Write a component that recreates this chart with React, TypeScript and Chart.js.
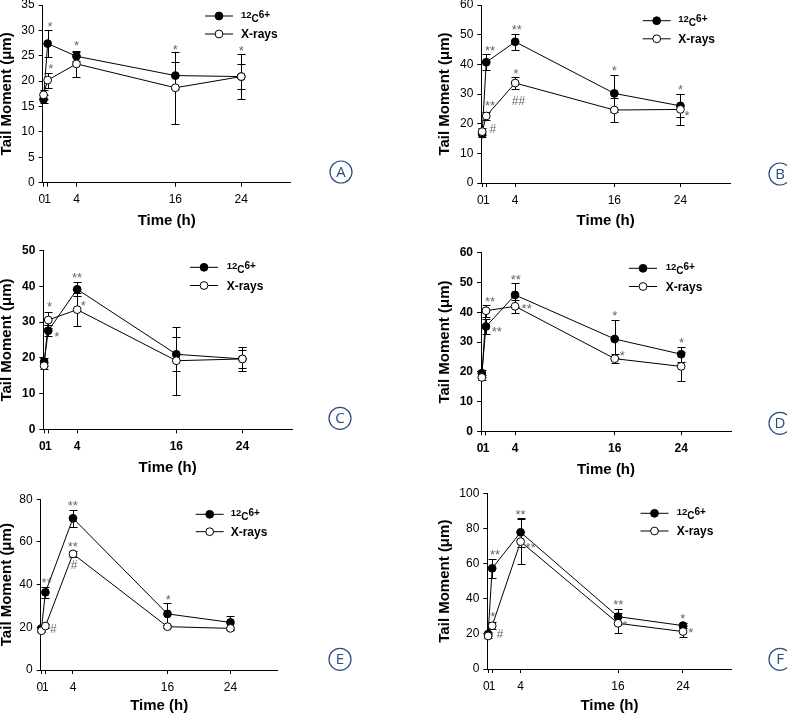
import { useEffect, useRef } from "react";
import { Chart, registerables } from "chart.js";

Chart.register(...registerables);

const FONT = "'Liberation Sans', Arial, Helvetica, sans-serif";

// ---------- shared data ----------
const timePoints = [0, 0.5, 4, 16, 24];
const xTickValues = [0, 0.5, 4, 16, 24];
const xTickLabels = ["0", "1", "4", "16", "24"];
const carbonLabelParts = ["12", "C", "6+"];
const xrayLabel = "X-rays";
const yTitle = "Tail Moment (μm)";
const xTitle = "Time (h)";

// ---------- panel A ----------
const aCarbon = [16.4, 27.4, 24.9, 21.1, 20.9];
const aCarbonErr = [0.8, 2.6, 0.9, 2.7, 2.4];
const aXray = [17.3, 20.2, 23.4, 18.7, 20.9];
const aXrayErr = [0.9, 1.5, 2.6, 7.1, 4.4];
const aNotes: [number, number, string][] = [[0.79, 31.3, "*"], [0.87, 23.0, "*"], [4.0, 27.5, "*"], [16, 26.9, "*"], [24, 26.6, "*"]];

// ---------- panel B ----------
const bCarbon = [16.5, 40.7, 47.6, 30.2, 26.0];
const bCarbonErr = [1.0, 2.7, 2.7, 6.3, 3.9];
const bXray = [17.3, 22.6, 33.7, 24.6, 24.8];
const bXrayErr = [1.2, 1.5, 2.0, 4.0, 5.2];
const bNotes: [number, number, string][] = [[0.95, 45.7, "**"], [0.95, 27.1, "**"], [1.3, 18.4, "#"], [4.2, 52.7, "**"], [4.1, 37.8, "*"], [4.4, 27.7, "##"], [16, 38.8, "*"], [24, 32.5, "*"], [24.8, 23.8, "*"]];

// ---------- panel C ----------
const cCarbon = [18.9, 27.6, 39.2, 21.0, 19.7];
const cCarbonErr = [1.2, 1.5, 2.0, 4.7, 2.5];
const cXray = [17.8, 30.6, 33.5, 19.2, 19.7];
const cXrayErr = [0.8, 2.3, 4.7, 9.5, 3.4];
const cNotes: [number, number, string][] = [[0.64, 35.1, "*"], [1.52, 26.9, "*"], [3.98, 43.2, "**"], [4.75, 35.4, "*"]];

// ---------- panel D ----------
const dCarbon = [19.5, 35.2, 45.8, 31.0, 25.9];
const dCarbonErr = [1.2, 2.5, 3.9, 6.4, 2.5];
const dXray = [18.1, 40.5, 42.0, 24.4, 21.8];
const dXrayErr = [0.8, 2.0, 2.1, 1.6, 4.8];
const dNotes: [number, number, string][] = [[0.98, 44.7, "**"], [1.79, 34.6, "**"], [4.08, 51.9, "**"], [5.4, 42.1, "**"], [16, 39.8, "*"], [16.9, 26.4, "*"], [24.05, 30.9, "*"]];

// ---------- panel E ----------
const eCarbon = [19.5, 36.4, 71.1, 26.3, 22.3];
const eCarbonErr = [1.0, 2.5, 3.9, 5.3, 3.2];
const eXray = [18.4, 20.6, 54.4, 20.3, 19.5];
const eXrayErr = [0.8, 1.0, 1.5, 0.8, 0.8];
const eNotes: [number, number, string][] = [[0.66, 42.2, "**"], [1.5, 19.5, "#"], [3.97, 78.4, "**"], [3.97, 59.4, "**"], [4.13, 49.2, "#"], [16.1, 34.4, "*"]];

// ---------- panel F ----------
const fCarbon = [19.9, 57.3, 77.8, 29.8, 24.7];
const fCarbonErr = [1.0, 5.5, 8.3, 4.4, 1.5];
const fXray = [18.8, 24.6, 72.5, 26.0, 21.3];
const fXrayErr = [1.0, 2.0, 13.0, 5.7, 2.9];
const fNotes: [number, number, string][] = [[0.85, 66.8, "**"], [0.56, 31.7, "*"], [1.46, 20.3, "#"], [4.0, 89.8, "**"], [5.24, 70.6, "**"], [16.03, 38.3, "**"], [16.85, 26.4, "*"], [23.97, 30.2, "*"], [24.96, 22.6, "*"]];

interface PanelDef {
  letter: string;
  carbon: number[];
  carbonErr: number[];
  xray: number[];
  xrayErr: number[];
  yMax: number;
  yStep: number;
  notes: [number, number, string][];
  boldTicks: boolean;
  box: { x: number; y: number; w: number; h: number };
  plot: { l: number; r: number; t: number; b: number };
  yTitleX: number;
  xTitleY: number;
  legend: { x: number; y1: number; y2: number; tx: number };
  circle: { x: number; y: number };
}

const panels: PanelDef[] = [
  {
    letter: "A", carbon: aCarbon, carbonErr: aCarbonErr, xray: aXray, xrayErr: aXrayErr,
    yMax: 35, yStep: 5, notes: aNotes, boldTicks: false,
    box: { x: 0, y: -10, w: 394, h: 245 }, plot: { l: 42.7, r: 290.7, t: 5, b: 182.7 },
    yTitleX: 7.3, xTitleY: 221, legend: { x: 219, y1: 16, y2: 34, tx: 241 }, circle: { x: 341, y: 172 },
  },
  {
    letter: "B", carbon: bCarbon, carbonErr: bCarbonErr, xray: bXray, xrayErr: bXrayErr,
    yMax: 60, yStep: 10, notes: bNotes, boldTicks: false,
    box: { x: 393, y: -10, w: 394, h: 245 }, plot: { l: 481.3, r: 730, t: 5, b: 183 },
    yTitleX: 445, xTitleY: 221, legend: { x: 656.7, y1: 20.7, y2: 38.8, tx: 678.3 }, circle: { x: 780, y: 174 },
  },
  {
    letter: "C", carbon: cCarbon, carbonErr: cCarbonErr, xray: cXray, xrayErr: cXrayErr,
    yMax: 50, yStep: 10, notes: cNotes, boldTicks: true,
    box: { x: 0, y: 235, w: 394, h: 245 }, plot: { l: 43.3, r: 292, t: 250.7, b: 429.3 },
    yTitleX: 7, xTitleY: 468, legend: { x: 204, y1: 267.3, y2: 285.5, tx: 226.7 }, circle: { x: 340, y: 418.3 },
  },
  {
    letter: "D", carbon: dCarbon, carbonErr: dCarbonErr, xray: dXray, xrayErr: dXrayErr,
    yMax: 60, yStep: 10, notes: dNotes, boldTicks: true,
    box: { x: 393, y: 235, w: 394, h: 245 }, plot: { l: 481, r: 731, t: 252.7, b: 431.3 },
    yTitleX: 445, xTitleY: 470, legend: { x: 643, y1: 268.3, y2: 286.5, tx: 665.7 }, circle: { x: 780, y: 423.3 },
  },
  {
    letter: "E", carbon: eCarbon, carbonErr: eCarbonErr, xray: eXray, xrayErr: eXrayErr,
    yMax: 80, yStep: 20, notes: eNotes, boldTicks: false,
    box: { x: 0, y: 480, w: 394, h: 234 }, plot: { l: 40.7, r: 277.7, t: 499.3, b: 670 },
    yTitleX: 7, xTitleY: 706, legend: { x: 209.7, y1: 514.3, y2: 531.7, tx: 230.7 }, circle: { x: 340, y: 659.3 },
  },
  {
    letter: "F", carbon: fCarbon, carbonErr: fCarbonErr, xray: fXray, xrayErr: fXrayErr,
    yMax: 100, yStep: 20, notes: fNotes, boldTicks: false,
    box: { x: 393, y: 480, w: 394, h: 234 }, plot: { l: 487.3, r: 731.7, t: 493.3, b: 669 },
    yTitleX: 445, xTitleY: 706, legend: { x: 654.5, y1: 513.3, y2: 531, tx: 676.7 }, circle: { x: 780, y: 659.3 },
  },
];

function makeOverlay(def: PanelDef) {
  const ox = def.box.x;
  const oy = def.box.y;
  return {
    id: "overlay" + def.letter,
    beforeDatasetsDraw(chart: any) {
      const { ctx } = chart;
      const xs = chart.scales.x;
      const ys = chart.scales.y;
      ctx.save();
      ctx.strokeStyle = "#000";
      ctx.lineWidth = 1;
      const series: [number[], number[]][] = [[def.carbon, def.carbonErr], [def.xray, def.xrayErr]];
      for (const [vals, errs] of series) {
        vals.forEach((v, i) => {
          const px = Math.round(xs.getPixelForValue(timePoints[i])) + 0.5;
          const top = Math.round(ys.getPixelForValue(v + errs[i])) + 0.5;
          const bot = Math.round(ys.getPixelForValue(Math.max(0, v - errs[i]))) + 0.5;
          ctx.beginPath();
          ctx.moveTo(px, top);
          ctx.lineTo(px, bot);
          ctx.moveTo(px - 4, top);
          ctx.lineTo(px + 4, top);
          ctx.moveTo(px - 4, bot);
          ctx.lineTo(px + 4, bot);
          ctx.stroke();
        });
      }
      ctx.restore();
    },
    afterDatasetsDraw(chart: any) {
      const { ctx } = chart;
      const xs = chart.scales.x;
      const ys = chart.scales.y;
      ctx.save();
      ctx.fillStyle = "#666";
      ctx.textAlign = "center";
      ctx.textBaseline = "alphabetic";
      for (const [nx, ny, t] of def.notes) {
        const isHash = t.includes("#");
        const size = isHash ? 12 : 13;
        ctx.font = `${size}px ${FONT}`;
        const off = isHash ? 0.36 * size : 0.57 * size;
        ctx.fillText(t, xs.getPixelForValue(nx), ys.getPixelForValue(ny) + off);
      }
      ctx.restore();
    },
    afterDraw(chart: any) {
      const { ctx } = chart;
      ctx.save();
      // legend
      const lx = def.legend.x - ox;
      const rows: [number, string][] = [[def.legend.y1 - oy, "#000"], [def.legend.y2 - oy, "#fff"]];
      rows.forEach(([ry, fill]) => {
        ctx.strokeStyle = "#000";
        ctx.lineWidth = 1;
        ctx.beginPath();
        ctx.moveTo(lx - 14, ry);
        ctx.lineTo(lx + 14, ry);
        ctx.stroke();
        ctx.beginPath();
        ctx.arc(lx, ry, 3.9, 0, Math.PI * 2);
        ctx.fillStyle = fill;
        ctx.fill();
        ctx.stroke();
      });
      const tx0 = def.legend.tx - ox;
      ctx.fillStyle = "#000";
      ctx.textAlign = "left";
      ctx.textBaseline = "alphabetic";
      let tx = tx0;
      const y1 = def.legend.y1 - oy;
      ctx.font = `bold 9.5px ${FONT}`;
      ctx.fillText(carbonLabelParts[0], tx, y1 + 1.5);
      tx += ctx.measureText(carbonLabelParts[0]).width;
      ctx.font = `bold 10px ${FONT}`;
      ctx.fillText(carbonLabelParts[1], tx, y1 + 5.5);
      tx += ctx.measureText(carbonLabelParts[1]).width;
      ctx.font = `bold 10px ${FONT}`;
      ctx.fillText(carbonLabelParts[2], tx, y1 + 1.5);
      ctx.font = `bold 12px ${FONT}`;
      ctx.fillText(xrayLabel, tx0, def.legend.y2 - oy + 4);
      // circled letter
      const cx = def.circle.x - ox;
      const cy = def.circle.y - oy;
      ctx.strokeStyle = "#2c4b7e";
      ctx.lineWidth = 1.2;
      ctx.beginPath();
      ctx.arc(cx, cy, 11, 0, Math.PI * 2);
      ctx.stroke();
      ctx.fillStyle = "#2c4b7e";
      ctx.font = `15px 'Open Sans', 'Noto Sans', sans-serif`;
      ctx.textAlign = "center";
      ctx.textBaseline = "middle";
      ctx.fillText(def.letter, cx, cy + 0.5);
      ctx.restore();
    },
  };
}

function Panel({ def }: { def: PanelDef }) {
  const ref = useRef<HTMLCanvasElement>(null);
  useEffect(() => {
    const { box, plot } = def;
    const padLeft = def.yTitleX - 7.5 - box.x;
    const yW = plot.l - box.x - padLeft;
    const padTop = plot.t - box.y;
    const padRight = box.x + box.w - plot.r;
    const xH = def.xTitleY + 7.5 - plot.b;
    const padBottom = box.y + box.h - (def.xTitleY + 7.5);
    const tickFont = { family: FONT, size: 12, weight: def.boldTicks ? "bold" : "normal" } as any;
    const titleFont = { family: FONT, size: 15, weight: "bold", lineHeight: 1 } as any;
    const mk = (vals: number[]) => timePoints.map((t, i) => ({ x: t, y: vals[i] }));
    const chart = new Chart(ref.current!, {
      type: "line",
      data: {
        datasets: [
          {
            label: xrayLabel, data: mk(def.xray), borderColor: "#000", borderWidth: 1,
            pointRadius: 3.9, pointBackgroundColor: "#fff", pointBorderColor: "#000", pointBorderWidth: 1,
            order: 0, tension: 0, fill: false, clip: false,
          } as any,
          {
            label: carbonLabelParts.join(""), data: mk(def.carbon), borderColor: "#000", borderWidth: 1,
            pointRadius: 3.9, pointBackgroundColor: "#000", pointBorderColor: "#000", pointBorderWidth: 1,
            order: 1, tension: 0, fill: false, clip: false,
          } as any,
        ],
      },
      options: {
        responsive: false,
        animation: false,
        events: [],
        layout: { padding: { left: padLeft, right: padRight, top: padTop, bottom: padBottom } },
        plugins: { legend: { display: false }, tooltip: { enabled: false } },
        scales: {
          x: {
            type: "linear", min: -0.1, max: 30,
            afterBuildTicks: (s: any) => { s.ticks = xTickValues.map((v) => ({ value: v })); },
            afterFit: (s: any) => { s.height = xH; s.paddingLeft = 0; s.paddingRight = 0; },
            ticks: {
              autoSkip: false, maxRotation: 0, minRotation: 0, color: "#000", font: tickFont, padding: 6,
              callback: (_v: any, i: number) => (i === 0 ? xTickLabels[i] + " " : xTickLabels[i]),
            },
            grid: { drawOnChartArea: false, drawTicks: true, tickLength: 4, color: "#000", lineWidth: 1 },
            border: { display: true, color: "#000", width: 1 },
            title: { display: true, text: xTitle, color: "#000", font: titleFont, padding: 0 },
          } as any,
          y: {
            type: "linear", min: 0, max: def.yMax,
            afterFit: (s: any) => { s.width = yW; s.paddingTop = 0; s.paddingBottom = 0; },
            ticks: { stepSize: def.yStep, color: "#000", font: tickFont, padding: 4 },
            grid: { drawOnChartArea: false, drawTicks: true, tickLength: 4, color: "#000", lineWidth: 1 },
            border: { display: true, color: "#000", width: 1 },
            title: { display: true, text: yTitle, color: "#000", font: titleFont, padding: 0 },
          } as any,
        },
      },
      plugins: [makeOverlay(def)],
    });
    return () => chart.destroy();
  }, [def]);
  return (
    <canvas
      ref={ref}
      width={def.box.w}
      height={def.box.h}
      style={{ position: "absolute", left: def.box.x, top: def.box.y, width: def.box.w, height: def.box.h }}
    />
  );
}

export default function App() {
  return (
    <div style={{ position: "absolute", left: 0, top: 0, width: 787, height: 714, overflow: "hidden", background: "#fff" }}>
      {panels.map((p) => (
        <Panel key={p.letter} def={p} />
      ))}
    </div>
  );
}
